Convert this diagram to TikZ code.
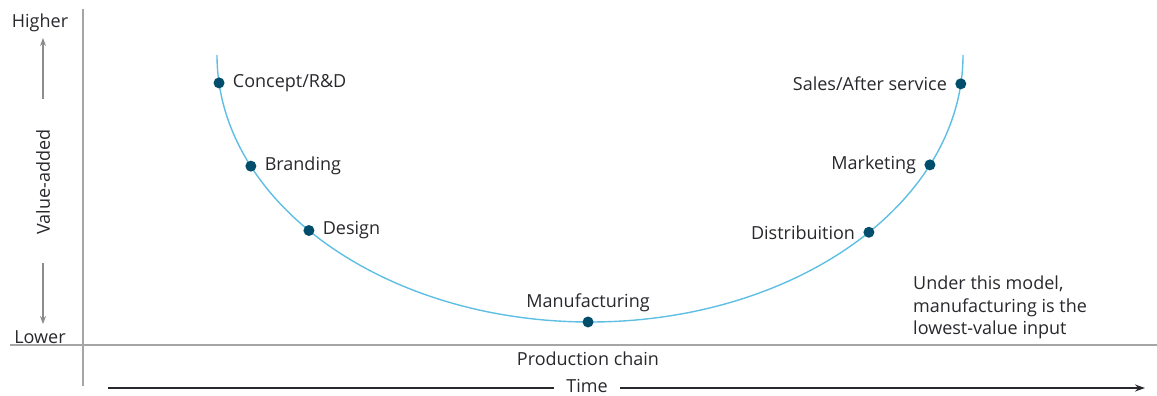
\documentclass[tikz,border=0pt]{standalone}
\usepackage{fontspec}
\setmainfont{Open Sans}
\usetikzlibrary{arrows.meta,calc}
\definecolor{txt}{RGB}{40,40,45}
\definecolor{axisgray}{RGB}{165,165,165}
\definecolor{curveblue}{RGB}{95,190,228}
\definecolor{dotblue}{RGB}{0,78,108}
\begin{document}
\begin{tikzpicture}[x=1pt,y=-1pt,
  lbl/.style={text=txt,font=\fontsize{18}{22.5}\selectfont,inner sep=0pt},
  dotmark/.style={circle,fill=dotblue,inner sep=0pt,minimum size=11pt},
  axis/.style={draw=axisgray,line width=2pt},
  vaarrow/.style={draw=gray!90,line width=1.3pt,-{Stealth[length=8pt,width=6pt]}}]
\useasboundingbox (0,0) rectangle (1157,396);
% axes
\coordinate (vt) at (83,9);
\coordinate (vb) at (83,386);
\coordinate (hl) at (10,345);
\coordinate (hr) at (1157,345);
\draw[axis] (vt) -- (vb);
\draw[axis] (hl) -- (hr);
% y-axis labels
\node[lbl] (higher) at (40,23) {Higher};
\node[lbl] (lower) at (40,337) {Lower};
\node[lbl,rotate=90] (va) at (43,182) {Value-added};
\coordinate (upA) at (43,99);
\coordinate (upB) at (43,38);
\coordinate (dnA) at (43,263);
\coordinate (dnB) at (43,324);
\draw[vaarrow] (upA) -- (upB);
\draw[vaarrow] (dnA) -- (dnB);
% curve: half ellipse centre (590,55), radii 373 x 267
\coordinate (cstart) at (217,55);
\draw[curveblue,line width=1.4pt] (cstart) arc[start angle=180,end angle=0,x radius=373,y radius=267];
\foreach \n/\t in {concept/174.0,branding/155.4,design/138.9,manuf/90.3,distr/41.6,market/24.3,sales/6.2}{
  \node[dotmark] (\n) at ({590+373*cos(\t)},{55+267*sin(\t)}) {};
}
\node[lbl,anchor=west] (lconcept) at ([xshift=8pt]concept.east) {Concept/R\&D};
\node[lbl,anchor=west] (lbranding) at ([xshift=8pt]branding.east) {Branding};
\node[lbl,anchor=west] (ldesign) at ([xshift=8pt]design.east) {Design};
\node[lbl,anchor=base] (lmanuf) at ([yshift=9pt]manuf.north) {Manufacturing};
\node[lbl,anchor=east] (ldistr) at ([xshift=-8pt]distr.west) {Distribuition};
\node[lbl,anchor=east] (lmarket) at ([xshift=-8pt]market.west) {Marketing};
\node[lbl,anchor=east] (lsales) at ([xshift=-8pt]sales.west) {Sales/After service};
% note
\node[lbl,anchor=north west,align=left] (note) at (913,276) {Under this model,\\manufacturing is the\\lowest-value input};
% bottom
\node[lbl] (prod) at (588,359) {Production chain};
\node[lbl] (time) at (587,386) {Time};
\coordinate (tl) at (108,388);
\coordinate (tr) at (1145,388);
\draw[txt,line width=1.5pt] (tl) -- ([xshift=-12pt]time.west |- tl);
\draw[txt,line width=1.5pt,-{Stealth[length=10pt,width=7pt]}] ([xshift=12pt]time.east |- tr) -- (tr);
\end{tikzpicture}
\end{document}
